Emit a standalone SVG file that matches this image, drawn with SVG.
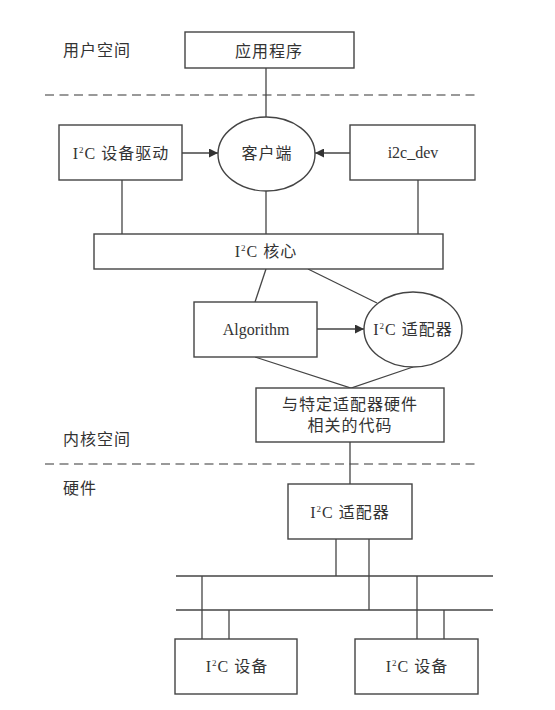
<svg xmlns="http://www.w3.org/2000/svg" width="555" height="710" viewBox="0 0 555 710">
<defs>
<style>
.b{fill:#fff;stroke:#444;stroke-width:1.4}
.l{fill:none;stroke:#444;stroke-width:1.3}
.d{fill:none;stroke:#999;stroke-width:2;stroke-dasharray:9 5.5}
.t{font-family:"Liberation Serif","Noto Sans CJK SC",serif;font-size:16px;fill:#333;text-anchor:middle;letter-spacing:1px}
.s{font-size:9px}
</style>
<marker id="ah" viewBox="0 0 10 10" refX="10" refY="5" markerWidth="9" markerHeight="9" markerUnits="userSpaceOnUse" orient="auto">
<path d="M0,0 L10,5 L0,10 Z" fill="#333"/>
</marker>
</defs>
<rect width="555" height="710" fill="#fff"/>
<g id="labels">
<text class="t" x="97" y="56">用户空间</text>
<text class="t" x="97" y="445">内核空间</text>
<text class="t" x="80" y="494">硬件</text>
</g>
<g id="dividers">
<line class="d" x1="45" y1="95" x2="478" y2="95"/>
<line class="d" x1="45" y1="464" x2="478" y2="464"/>
</g>
<g id="connectors">
<line class="l" x1="266" y1="68" x2="266" y2="117"/>
<line class="l" x1="182" y1="153" x2="218" y2="153" marker-end="url(#ah)"/>
<line class="l" x1="350" y1="153" x2="315" y2="153" marker-end="url(#ah)"/>
<line class="l" x1="122" y1="180" x2="122" y2="234"/>
<line class="l" x1="266" y1="191" x2="266" y2="234"/>
<line class="l" x1="418" y1="180" x2="418" y2="234"/>
<line class="l" x1="266" y1="269" x2="255" y2="302"/>
<line class="l" x1="308" y1="269" x2="377" y2="303"/>
<line class="l" x1="317" y1="329" x2="364" y2="329" marker-end="url(#ah)"/>
<polyline class="l" points="255,357 351,388 413,367"/>
<line class="l" x1="350" y1="442" x2="350" y2="484"/>
<line class="l" x1="336" y1="539" x2="336" y2="576"/>
<line class="l" x1="369" y1="539" x2="369" y2="610"/>
<line class="l" x1="176" y1="576" x2="493" y2="576"/>
<line class="l" x1="176" y1="610" x2="493" y2="610"/>
<line class="l" x1="202" y1="576" x2="202" y2="639"/>
<line class="l" x1="229" y1="610" x2="229" y2="639"/>
<line class="l" x1="417" y1="576" x2="417" y2="639"/>
<line class="l" x1="444" y1="610" x2="444" y2="639"/>
</g>
<g id="app">
<rect class="b" x="185" y="32" width="169" height="36"/>
<text class="t" x="269" y="57">应用程序</text>
</g>
<g id="client">
<ellipse class="b" cx="266.5" cy="154" rx="48.5" ry="37"/>
<text class="t" x="267" y="159">客户端</text>
</g>
<g id="driver">
<rect class="b" x="59" y="125" width="123" height="55"/>
<text class="t" x="121" y="159">I<tspan class="s" dy="-6">2</tspan><tspan dy="6">C 设备驱动</tspan></text>
</g>
<g id="i2cdev">
<rect class="b" x="350" y="125" width="125" height="55"/>
<text class="t" x="413" y="158" style="letter-spacing:0">i2c_dev</text>
</g>
<g id="core">
<rect class="b" x="94" y="234" width="349" height="35"/>
<text class="t" x="266" y="257">I<tspan class="s" dy="-6">2</tspan><tspan dy="6">C 核心</tspan></text>
</g>
<g id="algorithm">
<rect class="b" x="194" y="302" width="123" height="55"/>
<text class="t" x="256" y="335" style="letter-spacing:0">Algorithm</text>
</g>
<g id="adapter-drv">
<ellipse class="b" cx="413" cy="329.5" rx="49" ry="37.5"/>
<text class="t" x="413" y="335">I<tspan class="s" dy="-6">2</tspan><tspan dy="6">C 适配器</tspan></text>
</g>
<g id="hwcode">
<rect class="b" x="256" y="388" width="188" height="54"/>
<text class="t" x="350" y="410">与特定适配器硬件</text>
<text class="t" x="350" y="431">相关的代码</text>
</g>
<g id="adapter-hw">
<rect class="b" x="288" y="484" width="124" height="55"/>
<text class="t" x="350" y="518">I<tspan class="s" dy="-6">2</tspan><tspan dy="6">C 适配器</tspan></text>
</g>
<g id="device1">
<rect class="b" x="175" y="639" width="122" height="55"/>
<text class="t" x="237" y="672">I<tspan class="s" dy="-6">2</tspan><tspan dy="6">C 设备</tspan></text>
</g>
<g id="device2">
<rect class="b" x="355" y="639" width="123" height="55"/>
<text class="t" x="417" y="672">I<tspan class="s" dy="-6">2</tspan><tspan dy="6">C 设备</tspan></text>
</g>
</svg>
